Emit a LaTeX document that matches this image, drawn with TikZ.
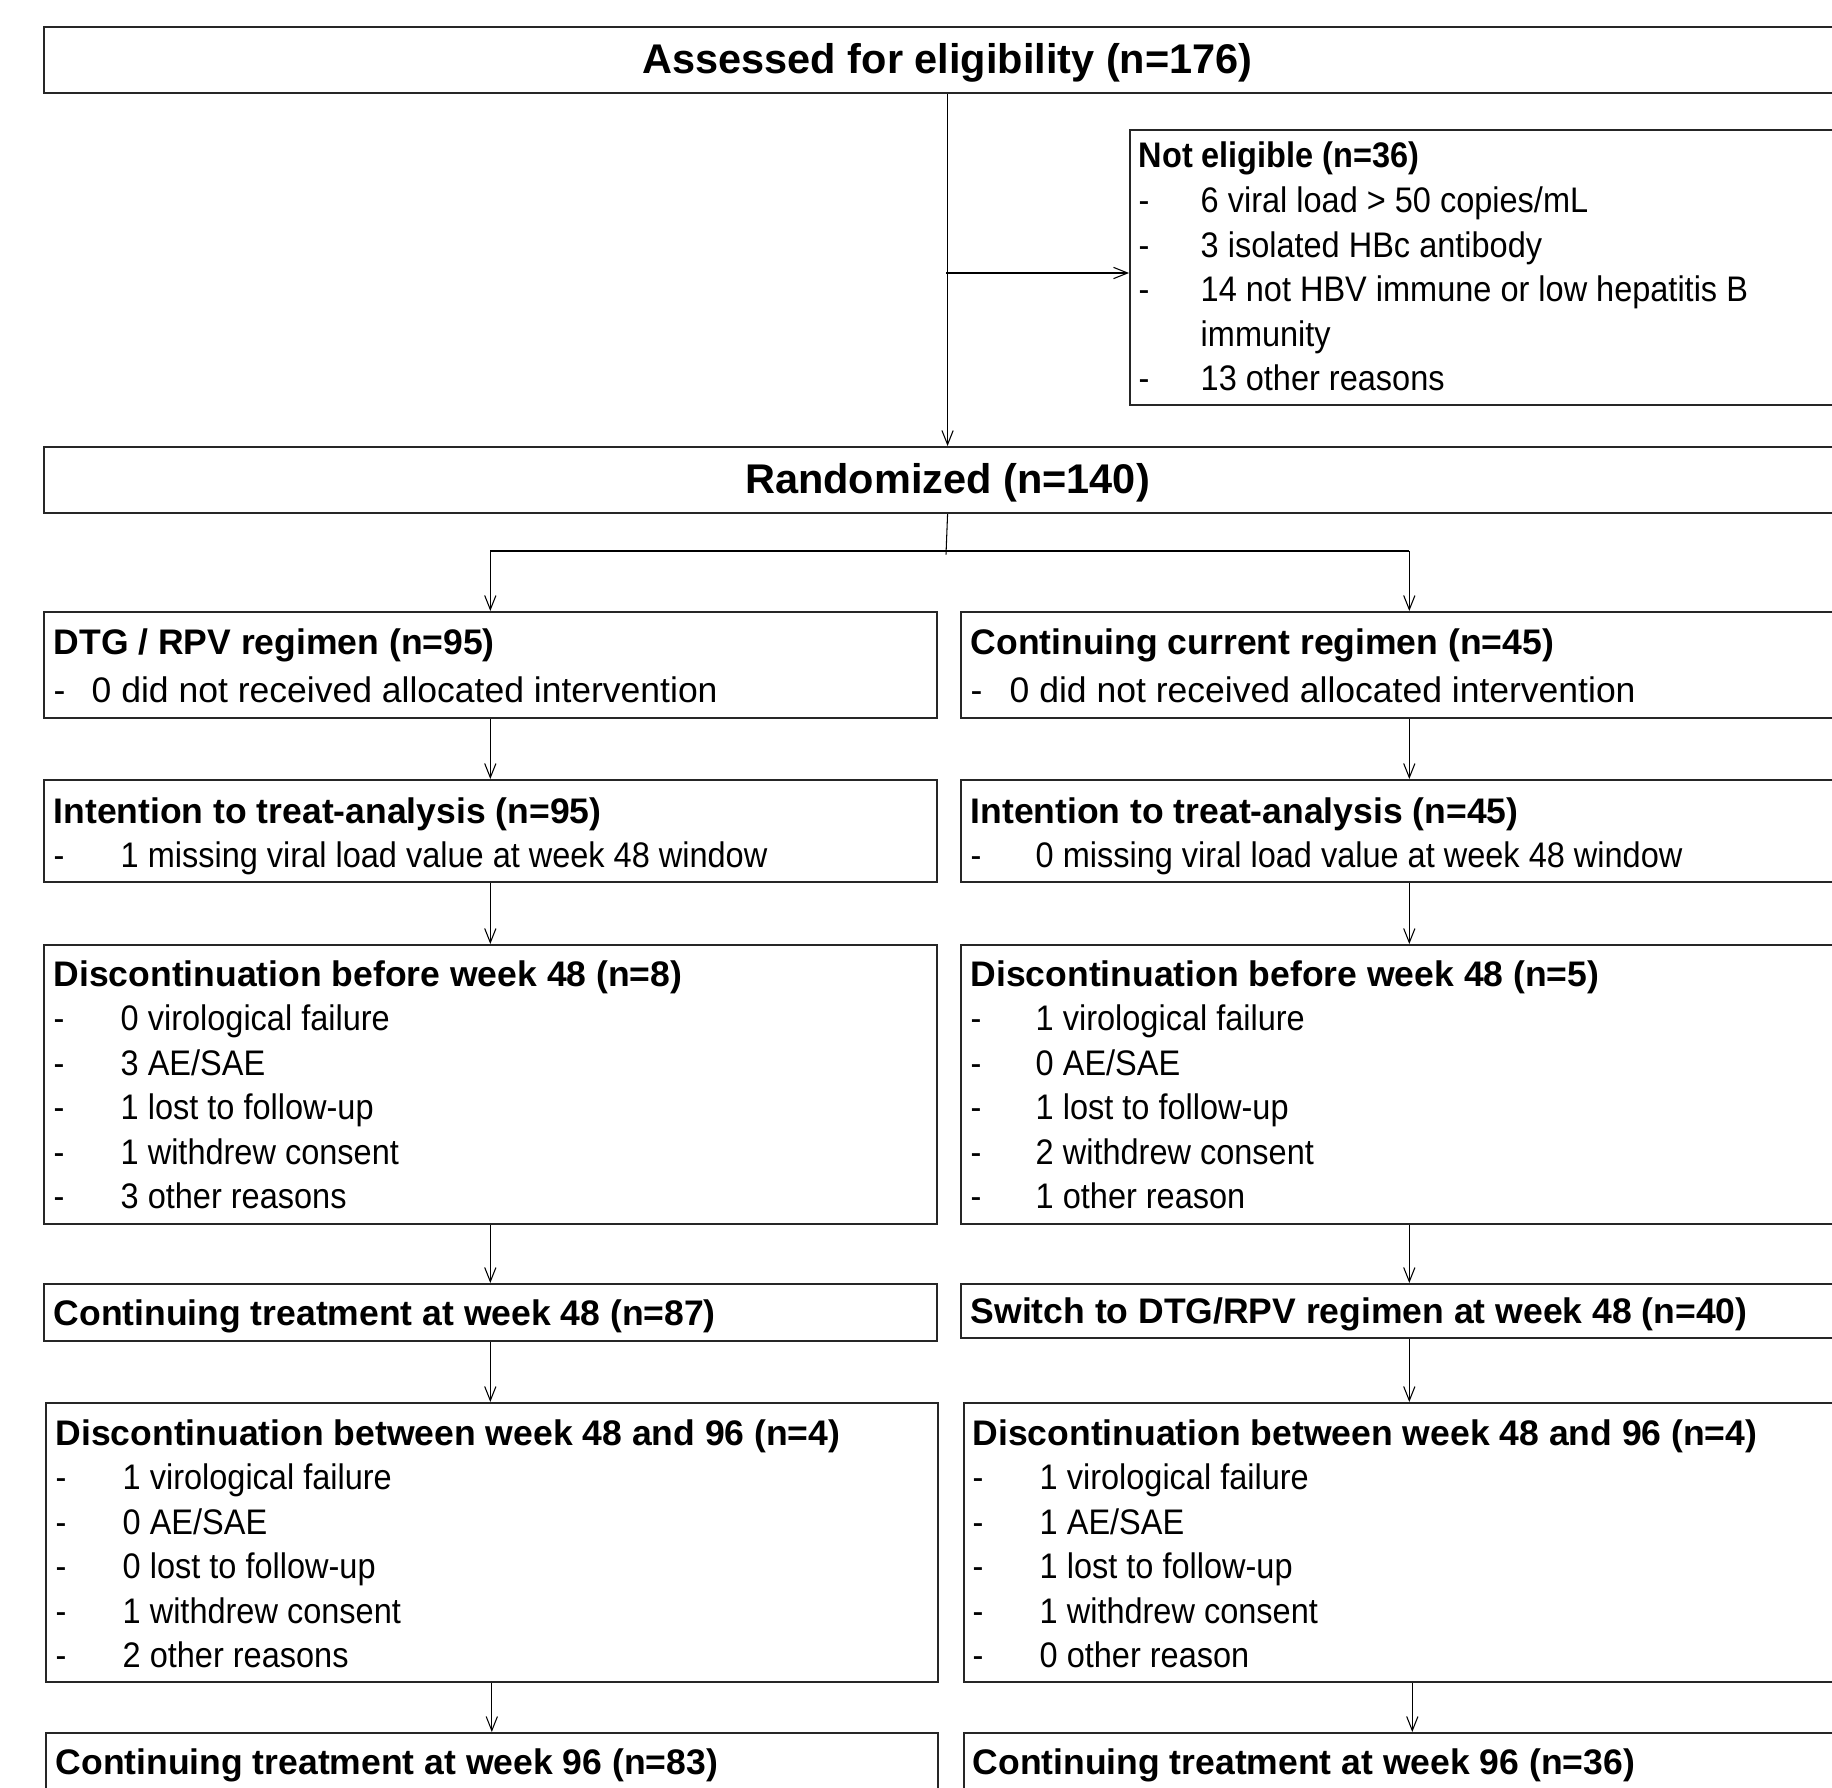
\documentclass[tikz,border=0pt]{standalone}
\usepackage{fontspec}
\setmainfont{Liberation Sans}
\newfontfamily\narrowfont[FakeStretch=0.915]{Liberation Sans}
\usepackage{array}
\usepackage{tikz}
\usetikzlibrary{arrows.meta}

\begin{document}
\begin{tikzpicture}[x=0.01cm, y=-0.01cm,
    box/.style={draw=black!85, line width=0.6pt, rectangle, inner sep=0pt, anchor=north west},
    bigtxt/.style={font=\fontsize{11.8}{14}\selectfont\bfseries, text height=10.3pt, text depth=2.5pt},
    txt/.style={inner sep=0pt, anchor=base west, font=\fontsize{10.1}{12.66}\selectfont},
    ntxt/.style={txt, font=\fontsize{10.1}{12.66}\narrowfont},
    link/.style={line width=0.3pt, -{Straight Barb[length=4pt,width=3.2pt]}}]
    \useasboundingbox (0,0) rectangle (1832,1788);
    \clip (0,0) rectangle (1832,1788);

    % top part
    \node[box, bigtxt, minimum width=18.06cm, minimum height=0.66cm] (assess) at (43,26) {Assessed for eligibility (n=176)};
    \node[box, minimum width=8cm, minimum height=2.75cm] (noteleg) at (1129,129) {};
    \node[ntxt] (notelegT) at (1138,168) {\begin{tabular}[t]{@{}p{0.62cm}@{}l@{}}
        \multicolumn{2}{@{}l@{}}{\bfseries Not eligible (n=36)}\\
        - & 6 viral load > 50 copies/mL\\
        - & 3 isolated HBc antibody\\
        - & 14 not HBV immune or low hepatitis B\\
          & immunity\\
        - & 13 other reasons
    \end{tabular}};
    \node[box, bigtxt, minimum width=18.06cm, minimum height=0.66cm] (rand) at (43,446) {Randomized (n=140)};

    % left arm
    \node[box, minimum width=8.92cm, minimum height=1.06cm] (dtg) at (43,611) {};
    \node[txt] (dtgT) at (53,654) {\begin{tabular}[t]{@{}p{0.38cm}@{}l@{}}
        \multicolumn{2}{@{}l@{}}{\bfseries DTG / RPV regimen (n=95)}\\[1pt]
        - & 0 did not received allocated intervention
    \end{tabular}};
    \node[box, minimum width=8.92cm, minimum height=1.02cm] (ittL) at (43,779) {};
    \node[ntxt] (ittLT) at (53,823) {\begin{tabular}[t]{@{}p{0.67cm}@{}l@{}}
        \multicolumn{2}{@{}l@{}}{\rmfamily\bfseries Intention to treat-analysis (n=95)}\\
        - & 1 missing viral load value at week 48 window
    \end{tabular}};
    \node[box, minimum width=8.92cm, minimum height=2.79cm] (discL) at (43,944) {};
    \node[ntxt] (discLT) at (53,986) {\begin{tabular}[t]{@{}p{0.67cm}@{}l@{}}
        \multicolumn{2}{@{}l@{}}{\rmfamily\bfseries Discontinuation before week 48 (n=8)}\\
        - & 0 virological failure\\
        - & 3 AE/SAE\\
        - & 1 lost to follow-up\\
        - & 1 withdrew consent\\
        - & 3 other reasons
    \end{tabular}};
    \node[box, minimum width=8.92cm, minimum height=0.57cm] (wk48L) at (43,1283) {};
    \node[txt, font=\fontsize{10.1}{12.66}\selectfont\bfseries] (wk48LT) at (53,1325) {Continuing treatment at week 48 (n=87)};
    \node[box, minimum width=8.91cm, minimum height=2.79cm] (disc96L) at (45,1402) {};
    \node[ntxt] (disc96LT) at (55,1445) {\begin{tabular}[t]{@{}p{0.67cm}@{}l@{}}
        \multicolumn{2}{@{}l@{}}{\rmfamily\bfseries Discontinuation between week 48 and 96 (n=4)}\\
        - & 1 virological failure\\
        - & 0 AE/SAE\\
        - & 0 lost to follow-up\\
        - & 1 withdrew consent\\
        - & 2 other reasons
    \end{tabular}};
    \node[box, minimum width=8.91cm, minimum height=1cm] (wk96L) at (45,1732) {};
    \node[txt, font=\fontsize{10.1}{12.66}\selectfont\bfseries] (wk96LT) at (55,1774) {Continuing treatment at week 96 (n=83)};

    % right arm
    \node[box, minimum width=8.96cm, minimum height=1.06cm] (cont) at (960,611) {};
    \node[txt] (contT) at (970,654) {\begin{tabular}[t]{@{}p{0.39cm}@{}l@{}}
        \multicolumn{2}{@{}l@{}}{\bfseries Continuing current regimen (n=45)}\\[1pt]
        - & 0 did not received allocated intervention
    \end{tabular}};
    \node[box, minimum width=8.96cm, minimum height=1.02cm] (ittR) at (960,779) {};
    \node[ntxt] (ittRT) at (970,823) {\begin{tabular}[t]{@{}p{0.65cm}@{}l@{}}
        \multicolumn{2}{@{}l@{}}{\rmfamily\bfseries Intention to treat-analysis (n=45)}\\
        - & 0 missing viral load value at week 48 window
    \end{tabular}};
    \node[box, minimum width=8.96cm, minimum height=2.79cm] (discR) at (960,944) {};
    \node[ntxt] (discRT) at (970,986) {\begin{tabular}[t]{@{}p{0.65cm}@{}l@{}}
        \multicolumn{2}{@{}l@{}}{\rmfamily\bfseries Discontinuation before week 48 (n=5)}\\
        - & 1 virological failure\\
        - & 0 AE/SAE\\
        - & 1 lost to follow-up\\
        - & 2 withdrew consent\\
        - & 1 other reason
    \end{tabular}};
    \node[box, minimum width=8.96cm, minimum height=0.54cm] (wk48R) at (960,1283) {};
    \node[txt, font=\fontsize{10.1}{12.66}\selectfont\bfseries] (wk48RT) at (970,1323) {Switch to DTG/RPV regimen at week 48 (n=40)};
    \node[box, minimum width=8.96cm, minimum height=2.79cm] (disc96R) at (963,1402) {};
    \node[ntxt] (disc96RT) at (972,1445) {\begin{tabular}[t]{@{}p{0.67cm}@{}l@{}}
        \multicolumn{2}{@{}l@{}}{\rmfamily\bfseries Discontinuation between week 48 and 96 (n=4)}\\
        - & 1 virological failure\\
        - & 1 AE/SAE\\
        - & 1 lost to follow-up\\
        - & 1 withdrew consent\\
        - & 0 other reason
    \end{tabular}};
    \node[box, minimum width=8.96cm, minimum height=1cm] (wk96R) at (963,1732) {};
    \node[txt, font=\fontsize{10.1}{12.66}\selectfont\bfseries] (wk96RT) at (972,1774) {Continuing treatment at week 96 (n=36)};

    % connectors
    \coordinate (nebr) at (946,273);
    \coordinate (split) at (946,551);
    \draw[link] (assess) -- (rand);
    \draw[link] (nebr) -- (nebr -| noteleg.west);
    \draw[line width=0.3pt] (rand.south) -- ([yshift=-1pt]split);
    \draw[line width=0.3pt] (split -| dtg.north) -- (split -| cont.north);
    \draw[link] (split -| dtg.north) -- (dtg.north);
    \draw[link] (split -| cont.north) -- (cont.north);

    \draw[link] (dtg.south) -- (dtg.south |- ittL.north);
    \draw[link] (ittL.south) -- (ittL.south |- discL.north);
    \draw[link] (discL.south) -- (discL.south |- wk48L.north);
    \draw[link] (wk48L.south) -- (wk48L.south |- disc96L.north);
    \draw[link] (disc96L.south) -- (disc96L.south |- wk96L.north);

    \draw[link] (cont.south) -- (cont.south |- ittR.north);
    \draw[link] (ittR.south) -- (ittR.south |- discR.north);
    \draw[link] (discR.south) -- (discR.south |- wk48R.north);
    \draw[link] (wk48R.south) -- (wk48R.south |- disc96R.north);
    \draw[link] (disc96R.south) -- (disc96R.south |- wk96R.north);
\end{tikzpicture}
\end{document}
